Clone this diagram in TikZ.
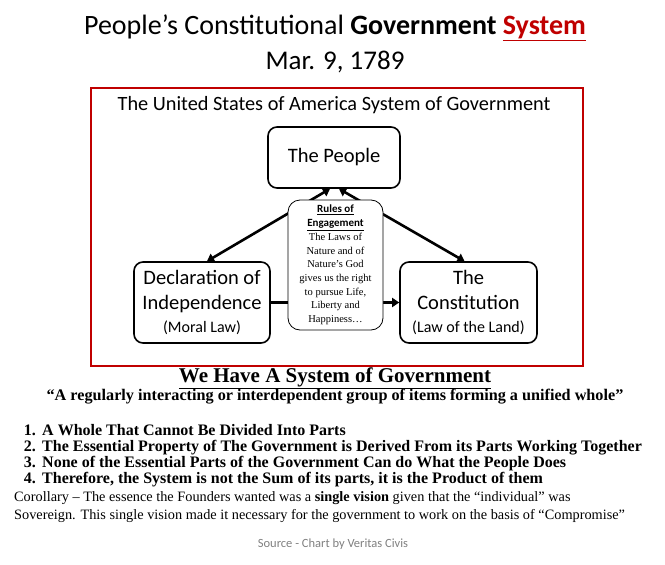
\documentclass[tikz,border=0pt]{standalone}
\usepackage{fontspec}
\setmainfont{Liberation Serif}
\setsansfont{Carlito}
\usetikzlibrary{positioning,arrows.meta,calc}
\definecolor{govred}{RGB}{192,0,0}
\definecolor{srcgray}{RGB}{128,128,128}
\newcommand{\fs}[1]{\fontsize{#1}{1.2\dimexpr#1pt\relax}\selectfont}
\tikzset{
  govbox/.style={draw,line width=1.6pt,rounded corners=9pt,fill=white,align=center,
                 font=\sffamily\fs{20.5},inner sep=2pt},
  rulebox/.style={draw,line width=0.8pt,rounded corners=12pt,fill=white,align=center,
                  minimum width=95pt,minimum height=130pt,inner sep=1pt,
                  font=\fontsize{10.5}{13.7}\selectfont},
  govarrow/.style={line width=2.6pt,{Triangle[length=7pt,width=9pt]}-{Triangle[length=7pt,width=9pt]}},
  listtext/.style={inner sep=0pt,font=\bfseries\fs{16}}
}
\begin{document}
\begin{tikzpicture}[x=1pt,y=-1pt]
\useasboundingbox (0,0) rectangle (665,565);
% title
\node[font=\sffamily\fs{28}] (title) at (335,28)
  {People’s Constitutional \textbf{Government} \textcolor{govred}{\textbf{\underline{System}}}};
\node[font=\sffamily\fs{27}] (date) at (335,62) {Mar. 9, 1789};
% frame
\draw[govred,line width=2pt] (91,88) rectangle (583,366);
\node[font=\sffamily\fs{20.3}] (usa) at (334,105) {The United States of America System of Government};
% parts
\node[govbox,minimum width=132pt,minimum height=61pt] (people) at (334,157.5) {The People};
\node[govbox,minimum width=136pt,minimum height=81pt] (decl) at (202,302.5)
  {Declaration of\\Independence\\[-2pt]\fs{16}(Moral Law)};
\node[govbox,minimum width=137pt,minimum height=81pt] (const) at (468.5,302.5)
  {The\\Constitution\\[-2pt]\fs{16}(Law of the Land)};
% connectors
\draw[govarrow] ($(people.south)+(-4,0)$) -- ($(decl.north)+(5,0)$);
\draw[govarrow] ($(people.south)+(5,0)$) -- ($(const.north)+(-4,0)$);
\draw[line width=2.6pt,-{Triangle[length=7pt,width=9pt]}] (decl.east) -- (const.west);
\node[rulebox] (rules) at (335.5,265)
  {\textsf{\bfseries\fontsize{11}{13.7}\selectfont\underline{Rules of}}\\
   \textsf{\bfseries\fontsize{11}{13.7}\selectfont\underline{Engagement}}\\
   The Laws of\\Nature and of\\Nature’s God\\gives us the right\\to pursue Life,\\Liberty and\\Happiness…};
% system definition
\node[font=\bfseries\fs{21}] (system) at (335,378) {\underline{We Have A System of Government}};
\node[font=\bfseries\fs{16.2}] (quote) at (335,397)
  {“A regularly interacting or interdependent group of items forming a unified whole”};
\foreach \n/\y/\txt in {1/435/{A Whole That Cannot Be Divided Into Parts},
                        2/451/{The Essential Property of The Government is Derived From its Parts Working Together},
                        3/467/{None of the Essential Parts of the Government Can do What the People Does},
                        4/483/{Therefore, the System is not the Sum of its parts, it is the Product of them}}
{
  \node[listtext,anchor=base east] (num\n) at (36,\y) {\n.};
  \node[listtext,anchor=base west] (item\n) at (42,\y) {\txt};
}
% corollary
\node[anchor=north west,align=left,inner sep=0pt,font=\fs{14.3}] (corollary) at (14,491)
  {Corollary – The essence the Founders wanted was a \textbf{single vision} given that the “individual” was\\[1pt]
   Sovereign. This single vision made it necessary for the government to work on the basis of “Compromise”};
\node[srcgray,font=\sffamily\fs{12.5}] (source) at (333,544) {Source - Chart by Veritas Civis};
\end{tikzpicture}
\end{document}
